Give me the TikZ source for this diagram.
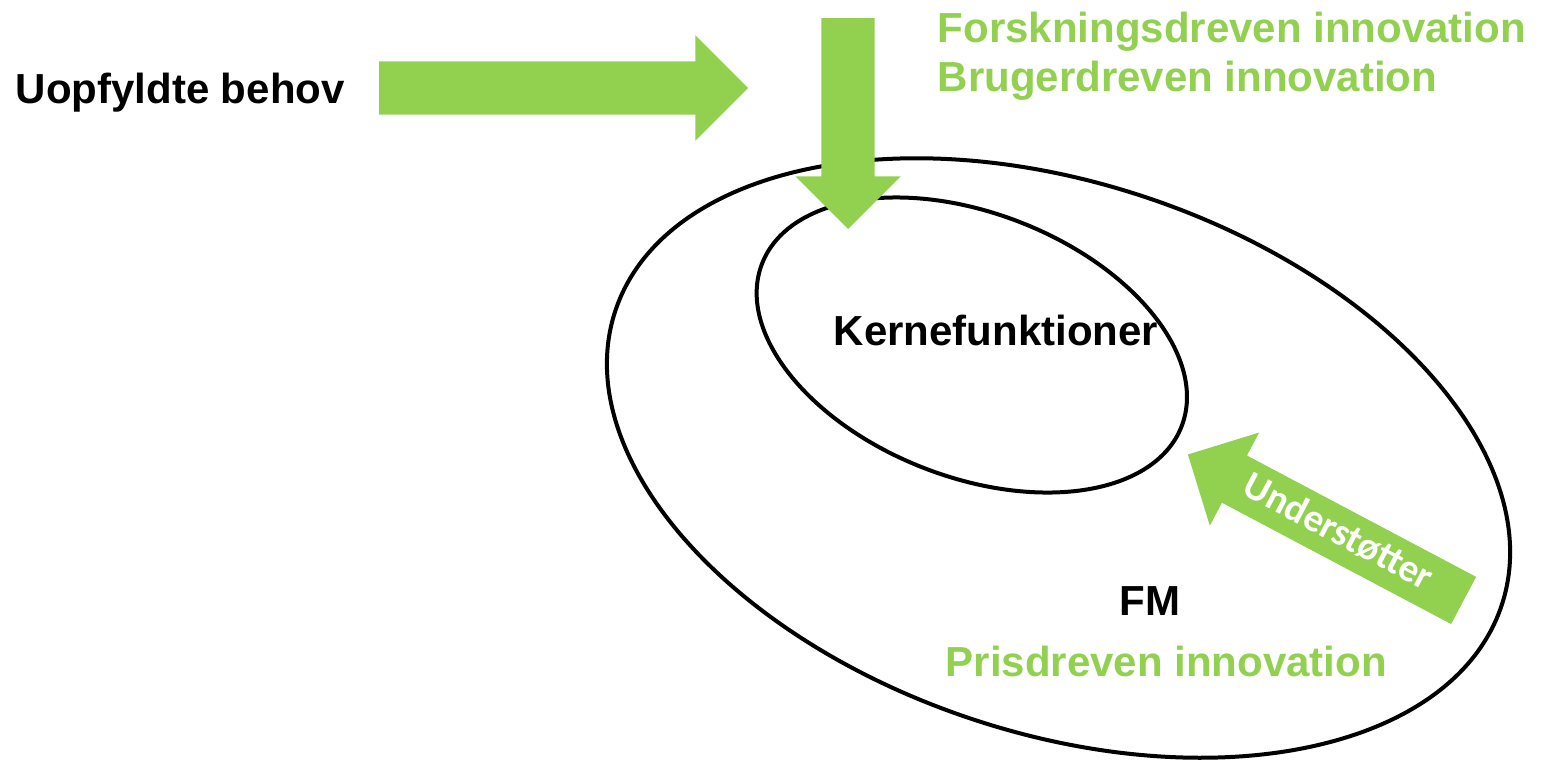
\documentclass[tikz,border=0pt]{standalone}
\usepackage{fontspec}
\setmainfont{Liberation Sans}
\newfontfamily\calibri{Carlito}
\usetikzlibrary{shapes.arrows}
\definecolor{leafgreen}{RGB}{146,208,80}

\begin{document}
\begin{tikzpicture}[x=0.1mm, y=-0.1mm,
    tagtext/.style={inner sep=0pt, anchor=base west, font=\bfseries\fontsize{4.2mm}{4.9mm}\selectfont},
    blockarrow/.style={single arrow, fill=leafgreen, draw=none, inner xsep=0pt, inner ysep=0pt,
        text height=3.6mm, text depth=1.6mm,
        minimum width=10.4mm, single arrow head extend=2.6mm, anchor=tip}]
    \useasboundingbox (0,0) rectangle (1547,761);
    % rings
    \draw[line width=0.4mm, rotate around={-18.4:(1058.5,458)}] (1058.5,458) ellipse [x radius=46.7mm, y radius=27.5mm];
    \draw[line width=0.4mm, rotate around={-21.2:(971.8,345)}] (971.8,345) ellipse [x radius=22.5mm, y radius=13.2mm];
    % block arrows
    \node[blockarrow, minimum height=36.9mm] (needsArrow) at (749,88) {};
    \node[blockarrow, minimum height=21.1mm, rotate=-90] (innovArrow) at (848,230) {};
    \node[blockarrow, minimum height=31.2mm, rotate=-27.9, shape border rotate=180,
        text=white, font=\calibri\bfseries\fontsize{3.9mm}{4mm}\selectfont] (supportArrow) at (1187,454) {Understøtter};
    % texts
    \node[tagtext] (needs) at (15,103) {Uopfyldte behov};
    \node[tagtext, text=leafgreen] (research) at (937,42) {Forskningsdreven innovation};
    \node[tagtext, text=leafgreen] (user) at (937,91) {Brugerdreven innovation};
    \node[tagtext] (core) at (833,345) {Kernefunktioner};
    \node[tagtext] (fm) at (1119,615) {FM};
    \node[tagtext, text=leafgreen] (price) at (945,676) {Prisdreven innovation};
\end{tikzpicture}
\end{document}
